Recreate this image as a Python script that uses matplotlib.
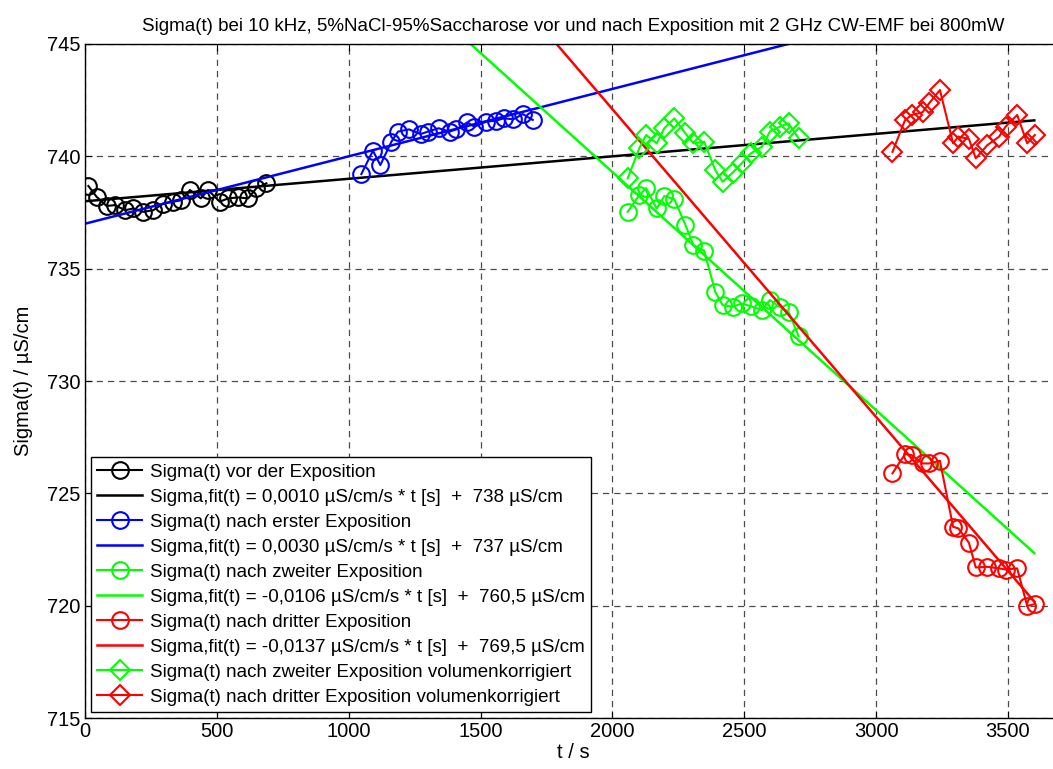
import numpy as np
import matplotlib.pyplot as plt

plt.rcParams['font.family'] = ['Liberation Sans', 'DejaVu Sans']

# measured conductivity, t in s, sigma in uS/cm
t_vor = [13, 44, 82, 114, 152, 183, 221, 259, 297, 335, 366, 398, 439, 467,
         511, 543, 581, 619, 650, 688]
s_vor = [738.68, 738.2, 737.79, 737.83, 737.6, 737.68, 737.53, 737.6, 737.9,
         737.98, 738.05, 738.5, 738.13, 738.5, 737.98, 738.13, 738.17, 738.13,
         738.58, 738.8]

t_erst = [1048, 1092, 1120, 1162, 1187, 1229, 1273, 1300, 1341, 1383, 1408,
          1450, 1477, 1521, 1559, 1588, 1625, 1660, 1698]
s_erst = [739.21, 740.25, 739.61, 740.65, 741.1, 741.2, 740.99, 741.1, 741.25,
          741.1, 741.2, 741.51, 741.32, 741.54, 741.59, 741.69, 741.65, 741.88,
          741.62]

t_zweit = [2058, 2102, 2128, 2168, 2197, 2235, 2277, 2307, 2348, 2390, 2418,
           2456, 2490, 2525, 2567, 2597, 2635, 2668, 2706]
s_zweit = [737.53, 738.28, 738.58, 737.68, 738.23, 738.09, 736.94, 736.05,
           735.8, 733.97, 733.38, 733.3, 733.45, 733.33, 733.16, 733.6, 733.3,
           733.08, 732.0]
s_zweit_vk = [739.02, 740.36, 740.95, 740.58, 741.25, 741.69, 741.02, 740.58,
              740.65, 739.39, 738.87, 739.27, 739.69, 740.13, 740.43, 741.1,
              741.32, 741.47, 740.8]

t_dritt = [3062, 3110, 3135, 3176, 3201, 3242, 3292, 3312, 3352, 3378, 3422,
           3466, 3491, 3535, 3573, 3602]
s_dritt = [725.89, 726.75, 726.7, 726.33, 726.33, 726.45, 723.51, 723.44,
           722.8, 721.7, 721.73, 721.66, 721.61, 721.66, 719.99, 720.07]
s_dritt_vk = [740.2, 741.62, 741.84, 741.96, 742.36, 742.95, 740.58, 740.88,
              740.77, 739.91, 740.5, 740.87, 741.32, 741.84, 740.58, 740.95]

# linear fits: slope (uS/cm/s), offset (uS/cm)
fit_slopes = [0.0010, 0.0030, -0.0106, -0.0137]
fit_offsets = [738, 737, 760.5, 769.5]
fit_labels = ['0,0010 µS/cm/s * t [s]  +  738 µS/cm',
              '0,0030 µS/cm/s * t [s]  +  737 µS/cm',
              '-0,0106 µS/cm/s * t [s]  +  760,5 µS/cm',
              '-0,0137 µS/cm/s * t [s]  +  769,5 µS/cm']

fig = plt.figure(figsize=(10.53, 7.69), dpi=100)
ax = fig.add_axes([0.0807, 0.0663, 0.9266, 0.8765])

t_fit = np.linspace(0, 3600, 200)
ms_c, ms_d = 12, 10.5

series = [
    (t_vor, s_vor, 'k', 'Sigma(t) vor der Exposition'),
    (t_erst, s_erst, 'b', 'Sigma(t) nach erster Exposition'),
    (t_zweit, s_zweit, (0, 1, 0), 'Sigma(t) nach zweiter Exposition'),
    (t_dritt, s_dritt, 'r', 'Sigma(t) nach dritter Exposition'),
]
for (t, s, c, lab), m, b, flab in zip(series, fit_slopes, fit_offsets, fit_labels):
    ax.plot(t, s, '-o', color=c, lw=1.5, ms=ms_c, mfc='none', mew=1.5, label=lab)
    ax.plot(t_fit, m * t_fit + b, '-', color=c, lw=1.8,
            label='Sigma,fit(t) = ' + flab)

ax.plot(t_zweit, s_zweit_vk, '-D', color=(0, 1, 0), lw=1.5, ms=ms_d, mfc='none',
        mew=1.5, label='Sigma(t) nach zweiter Exposition volumenkorrigiert')
ax.plot(t_dritt, s_dritt_vk, '-D', color='r', lw=1.5, ms=ms_d, mfc='none',
        mew=1.5, label='Sigma(t) nach dritter Exposition volumenkorrigiert')

ax.set_xlim(0, 3700)
ax.set_ylim(715, 745)
ax.set_xticks(np.arange(0, 3501, 500))
ax.set_yticks(np.arange(715, 746, 5))
ax.tick_params(direction='in', top=True, labelsize=14.5, length=5, pad=3)
ax.grid(True, color='0.3', linestyle=(0, (5, 4)), lw=0.9)
for sp in ax.spines.values():
    sp.set_linewidth(1.0)

ax.set_title('Sigma(t) bei 10 kHz, 5%NaCl-95%Saccharose vor und nach Exposition '
             'mit 2 GHz CW-EMF bei 800mW', fontsize=13.5, pad=9)
ax.set_xlabel('t / s', fontsize=14.5, labelpad=1)
ax.set_ylabel('Sigma(t) / µS/cm', fontsize=14.5, labelpad=10)

leg = ax.legend(loc='lower left', fontsize=13.5, handlelength=2.4, numpoints=1,
                handletextpad=0.4, fancybox=False, framealpha=1, edgecolor='k',
                borderaxespad=0.3, labelspacing=0.42, borderpad=0.35)
leg.get_frame().set_linewidth(1.0)

fig.savefig('out.png', dpi=100)
